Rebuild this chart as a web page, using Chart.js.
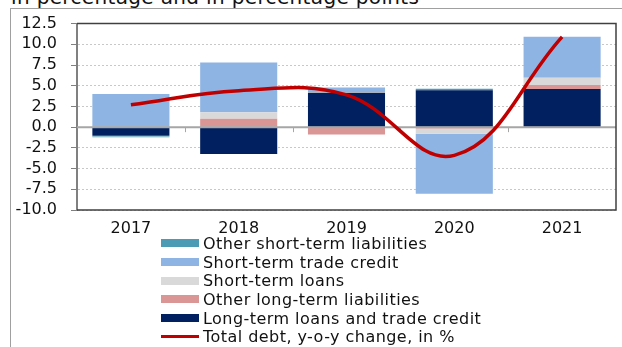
<!DOCTYPE html>
<html>
<head>
<meta charset="utf-8">
<script src="https://cdn.jsdelivr.net/npm/chart.js@4"></script>
<style>
  body { margin: 0; background: #fff; }
  #wrap { position: relative; width: 622px; height: 347px; overflow: hidden; font-family: "DejaVu Sans", Verdana, sans-serif; }
  #frame { position: absolute; left: 10px; top: 8px; right: 0; bottom: 0; border-top: 1.5px solid #a0a0a0; border-left: 1.5px solid #a0a0a0; }
  #title { position: absolute; left: 11px; top: -15px; font-size: 20px; letter-spacing: 0.35px; color: #111; white-space: nowrap; }
  #legend { position: absolute; left: 161px; top: 234px; font-size: 16px; letter-spacing: 0.45px; color: #111; }
  .item { height: 18.7px; display: flex; align-items: center; }
  .swatch { width: 38px; margin-right: 4px; }
  canvas { position: absolute; left: 0; top: 0; }
</style>
</head>
<body>
<div id="wrap">
  <div id="frame"></div>
  <div id="title">in percentage and in percentage points</div>
  <canvas id="debtChart" width="622" height="347"></canvas>
  <div id="legend"></div>
</div>
<script>
// years on the x axis
const categories = ['2017', '2018', '2019', '2020', '2021'];

// contributions, percentage points
const longTermLoans  = [-1.05, -3.25, 4.15, 4.45, 4.6];
const otherLongTerm  = [0, 1.0, -0.9, -0.15, 0.5];
const shortTermLoans = [-0.05, 0.8, 0.1, -0.65, 0.85];
const shortTermTrade = [4.0, 6.0, 0.55, -7.25, 4.95];
const otherShortTerm = [-0.12, 0, 0, 0.2, 0];

// total debt, y-o-y change in %
const totalDebt = [2.7, 4.4, 3.9, -3.4, 10.9];

const yTicks = [12.5, 10, 7.5, 5, 2.5, 0, -2.5, -5, -7.5, -10];

const ctx = document.getElementById('debtChart').getContext('2d');

// zero line with small category ticks, drawn under the red line
const zeroLine = {
    id: 'zeroLine',
    beforeDatasetDraw(chart, args) {
        if (args.meta.type !== 'line') return;
        const { ctx, chartArea: a, scales: { x, y } } = chart;
        const y0 = y.getPixelForValue(0);
        ctx.save();
        ctx.strokeStyle = '#a6a6a6';
        ctx.lineWidth = 2;
        ctx.beginPath();
        ctx.moveTo(a.left, y0);
        ctx.lineTo(a.right, y0);
        ctx.stroke();
        ctx.lineWidth = 1;
        ctx.beginPath();
        for (let i = 1; i < categories.length; i++) {
            const xp = Math.round((x.getPixelForValue(i - 1) + x.getPixelForValue(i)) / 2) + 0.5;
            ctx.moveTo(xp, y0);
            ctx.lineTo(xp, y0 + 5);
        }
        ctx.stroke();
        ctx.restore();
    },
    afterDraw(chart) {
        const { ctx, chartArea: a } = chart;
        ctx.save();
        ctx.strokeStyle = '#404040';
        ctx.lineWidth = 1.5;
        ctx.beginPath();
        ctx.moveTo(a.left, a.top);
        ctx.lineTo(a.right, a.top);
        ctx.lineTo(a.right, a.bottom);
        ctx.lineTo(a.left, a.bottom);
        ctx.stroke();
        ctx.restore();
    }
};

const barOpts = { type: 'bar', order: 1, borderWidth: 0, barPercentage: 0.715, categoryPercentage: 1 };

const chart = new Chart(ctx, {
    data: {
        labels: categories,
        datasets: [
            { ...barOpts, label: 'Long-term loans and trade credit', data: longTermLoans, backgroundColor: '#002060' },
            { ...barOpts, label: 'Other long-term liabilities', data: otherLongTerm, backgroundColor: '#da9694' },
            { ...barOpts, label: 'Short-term loans', data: shortTermLoans, backgroundColor: '#d9d9d9' },
            { ...barOpts, label: 'Short-term trade credit', data: shortTermTrade, backgroundColor: '#8eb4e3' },
            { ...barOpts, label: 'Other short-term liabilities', data: otherShortTerm, backgroundColor: '#4a9bb3' },
            {
                type: 'line', order: 0, label: 'Total debt, y-o-y change, in %', data: totalDebt,
                borderColor: '#c00000', backgroundColor: '#c00000', borderWidth: 3.5,
                pointRadius: 0, tension: 0.4, fill: false, stack: 'line'
            }
        ]
    },
    options: {
        responsive: false,
        animation: false,
        layout: { padding: { left: 10, top: 19, right: 6, bottom: 107 } },
        plugins: { legend: { display: false }, tooltip: { enabled: false } },
        scales: {
            x: {
                stacked: true,
                grid: { display: false },
                border: { display: false },
                ticks: { color: '#111', font: { family: 'DejaVu Sans', size: 16 }, padding: 1 },
                afterFit(scale) { scale.height = 30; }
            },
            y: {
                stacked: true,
                min: -10, max: 12.5,
                afterBuildTicks(scale) { scale.ticks = yTicks.map(v => ({ value: v })); },
                ticks: {
                    autoSkip: false,
                    color: '#111', font: { family: 'DejaVu Sans', size: 16 }, padding: 14,
                    callback: v => v.toFixed(1)
                },
                grid: {
                    color: c => c.tick && c.tick.value === 0 ? 'rgba(0,0,0,0)' : '#c8c8c8',
                    tickColor: '#808080', tickLength: 6, tickBorderDash: []
                },
                border: { display: true, color: '#808080', width: 2, dash: [2, 2] },
                afterFit(scale) { scale.width = 67; }
            }
        }
    },
    plugins: [zeroLine]
});

// legend, one entry per row: bars top-down, then the line
const legendEl = document.getElementById('legend');
const ds = chart.data.datasets;
[4, 3, 2, 1, 0, 5].forEach(i => {
    const row = document.createElement('div');
    row.className = 'item';
    const sw = document.createElement('span');
    sw.className = 'swatch';
    sw.style.height = ds[i].type === 'line' ? '3px' : '8px';
    sw.style.background = ds[i].type === 'line' ? ds[i].borderColor : ds[i].backgroundColor;
    const txt = document.createElement('span');
    txt.textContent = ds[i].label;
    row.appendChild(sw);
    row.appendChild(txt);
    legendEl.appendChild(row);
});
</script>
</body>
</html>
